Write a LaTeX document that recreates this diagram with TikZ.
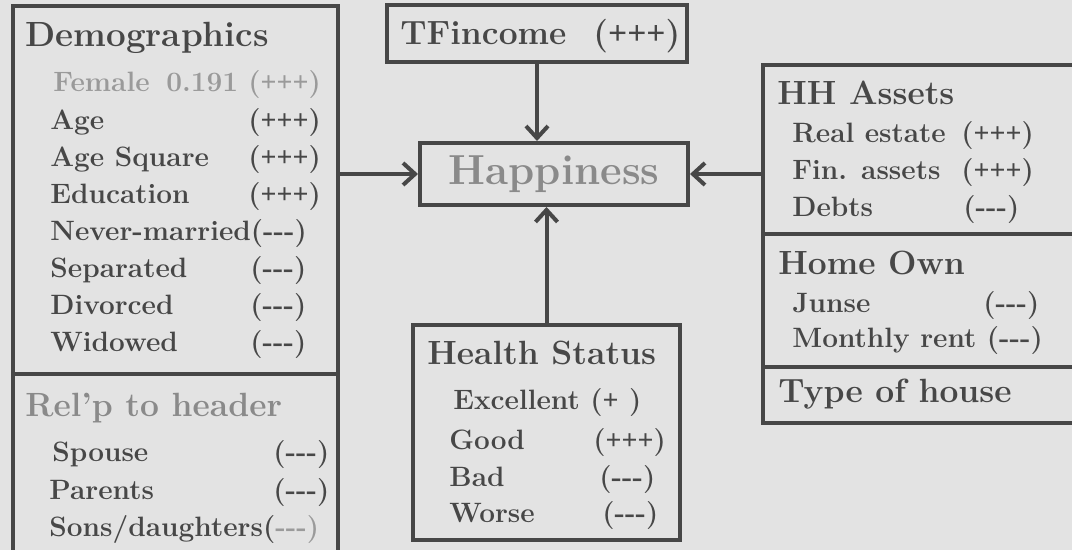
\documentclass[tikz,border=0pt]{standalone}
\usepackage{fontspec}
\usepackage{xcolor}
\usetikzlibrary{arrows.meta}
\newfontfamily\plusfont{Liberation Serif}
\definecolor{bgc}{HTML}{E3E3E3}
\definecolor{ink}{HTML}{474747}
\definecolor{pale}{HTML}{8A8A8A}
\definecolor{faint}{HTML}{9A9A9A}
\newcommand{\plusn}{{\plusfont\bfseries +}}
\newcommand{\ppp}{(\plusn\plusn\plusn)}
\newcommand{\mmm}{(-{}-{}-)}

\tikzset{
  box/.style={draw=ink, line width=2pt, inner sep=0pt},
  head/.style={anchor=base west, inner sep=0pt, text=ink, font=\bfseries\fontsize{16.8}{19}\selectfont},
  item/.style={anchor=base west, inner sep=0pt, text=ink, font=\bfseries\fontsize{14}{16}\selectfont},
  arr/.style={draw=ink, line width=2pt, -{Straight Barb[length=6pt,width=11pt]}},
}

\begin{document}
\begin{tikzpicture}[x=0.5pt, y=-0.5pt]
      \fill[bgc] (0,0) rectangle (1072,550);
      \clip (0,0) rectangle (1072,550);
      % blocks
      \node[box, minimum width=162.5pt, minimum height=184pt] (demo) at (175.5,190) {};
      \node[box, minimum width=162.5pt, minimum height=103pt] (relp) at (175.5,477) {};
      \node[box, minimum width=150pt, minimum height=28.5pt] (tfin) at (537,33.5) {};
      \node[box, minimum width=134pt, minimum height=31pt, text=pale,
            font=\bfseries\fontsize{21}{23}\selectfont] (happy) at (554,174) {Happiness};
      \node[box, minimum width=133.5pt, minimum height=107.5pt] (health) at (546.5,432.5) {};
      \node[box, minimum width=168.5pt, minimum height=84.5pt] (assets) at (931.5,149.5) {};
      \node[box, minimum width=168.5pt, minimum height=66.5pt] (homeown) at (931.5,300.5) {};
      \node[box, minimum width=168.5pt, minimum height=28pt] (housetype) at (931.5,395) {};
      % demographics
      \node[head, font=\bfseries\fontsize{17.5}{20}\selectfont] (demotitle) at (25,47) {Demographics};
      \node[item, text=faint] (female) at (53,92) {Female};
      \node[item, text=faint] (femaleval) at (166,92) {0.191};
      \node[item, text=faint] (femalesig) at (248,92) {\ppp};
      \node[item] (age) at (50,130) {Age};
      \node[item] (agesig) at (248,130) {\ppp};
      \node[item] (agesq) at (50,167) {Age Square};
      \node[item] (agesqsig) at (248,167) {\ppp};
      \node[item] (educ) at (50,204) {Education};
      \node[item] (educsig) at (248,204) {\ppp};
      \node[item] (never) at (50,241) {Never-married\mmm};
      \node[item] (sep) at (50,278) {Separated};
      \node[item] (sepsig) at (250,278) {\mmm};
      \node[item] (div) at (50,315) {Divorced};
      \node[item] (divsig) at (250,315) {\mmm};
      \node[item] (wid) at (50,352) {Widowed};
      \node[item] (widsig) at (250,352) {\mmm};
      % relationship to header
      \node[head, text=pale] (relptitle) at (25,417) {Rel'p to header};
      \node[item] (spouse) at (52,462) {Spouse};
      \node[item] (spousesig) at (273,462) {\mmm};
      \node[item] (parents) at (49,500) {Parents};
      \node[item] (parentssig) at (273,500) {\mmm};
      \node[item] (sons) at (49,537) {Sons/daughters(\textcolor{faint}{-{}-{}-)}};
      % income
      \node[head] (tfintitle) at (400,45) {TFincome};
      \node[head] (tfinsig) at (593,45) {\ppp};
      % health
      \node[head] (healthtitle) at (427,365) {Health Status};
      \node[item] (exc) at (453,410) {Excellent};
      \node[item] (excsig) at (590,410) {(\plusn\ )};
      \node[item] (good) at (449,450) {Good};
      \node[item] (goodsig) at (593,450) {\ppp};
      \node[item] (bad) at (449,487) {Bad};
      \node[item] (badsig) at (599,487) {\mmm};
      \node[item] (worse) at (449,523) {Worse};
      \node[item] (worsesig) at (602,523) {\mmm};
      % assets, home
      \node[head] (assetstitle) at (777,105) {HH Assets};
      \node[item] (estate) at (792,143) {Real estate};
      \node[item] (estatesig) at (961,143) {\ppp};
      \node[item] (fin) at (792,180) {Fin. assets};
      \node[item] (finsig) at (961,180) {\ppp};
      \node[item] (debts) at (792,217) {Debts};
      \node[item] (debtssig) at (963,217) {\mmm};
      \node[head] (hometitle) at (778,275) {Home Own};
      \node[item] (junse) at (792,313) {Junse};
      \node[item] (junsesig) at (983,313) {\mmm};
      \node[item] (rent) at (792,348) {Monthly rent \mmm};
      \node[head] (typetitle) at (778,403) {Type of house};
      % arrows into Happiness
      \draw[arr] (demo.east |- happy.west) -- (happy.west);
      \draw[arr] (tfin.south) -- (tfin.south |- happy.north);
      \draw[arr] (health.north) -- (health.north |- happy.south);
      \draw[arr] (assets.west |- happy.east) -- (happy.east);
    \end{tikzpicture}
\end{document}
